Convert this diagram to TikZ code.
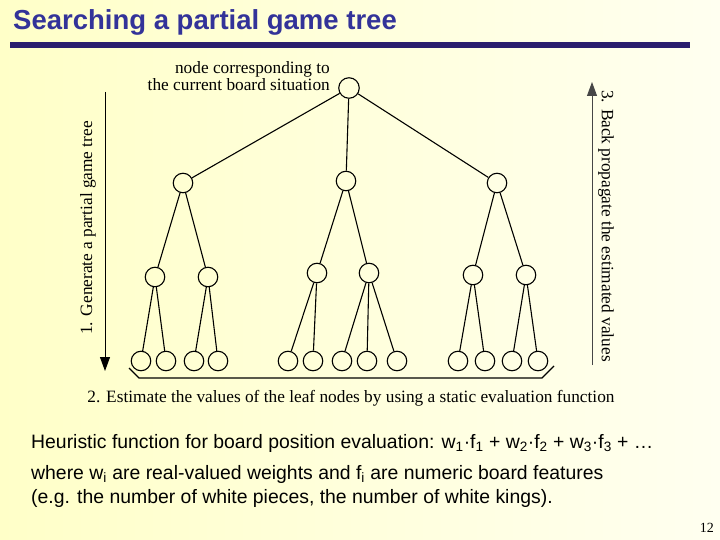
\documentclass[tikz,border=0pt]{standalone}
\usepackage{fontspec}
\setmainfont{Liberation Serif}
\setsansfont{Liberation Sans}
\newfontfamily\arialf{Liberation Sans}
\usetikzlibrary{arrows.meta}
\definecolor{titleblue}{RGB}{51,51,153}
\definecolor{barblue}{RGB}{42,30,110}
\definecolor{bgyellow}{RGB}{255,255,200}
\definecolor{bgwhite}{RGB}{255,255,240}
\definecolor{arrowgray}{RGB}{70,70,70}
\begin{document}
\begin{tikzpicture}[x=1pt,y=-1pt,
  tn/.style={circle,draw=black,line width=1.1pt,minimum size=19.5pt,inner sep=0pt},
  edge/.style={line width=1.1pt},
  lbl/.style={font=\fontsize{17.3}{17}\selectfont, inner sep=0pt},
  body/.style={font=\arialf\fontsize{19.4}{20}\selectfont, anchor=base west, inner sep=0pt},
]
\useasboundingbox (0,0) rectangle (720,540);
\shade[left color=bgyellow, right color=bgwhite] (0,0) rectangle (720,540);

% title
\node[anchor=base west, inner sep=0pt, text=titleblue, font=\arialf\bfseries\fontsize{27.5}{28}\selectfont] (title) at (13,30) {Searching a partial game tree};
\fill[barblue] (10,42) rectangle (690,48);

% tree
\node[tn, minimum size=20.5pt] (r) at (349,88) {};
\node[tn] (a) at (183,183) {};
\node[tn] (b) at (346,181) {};
\node[tn] (c) at (497,183) {};
\node[tn] (a1) at (155,277) {};
\node[tn] (a2) at (208,277) {};
\node[tn] (b1) at (317,273) {};
\node[tn] (b2) at (369,273) {};
\node[tn] (c1) at (473,275) {};
\node[tn] (c2) at (526,275) {};
\foreach \n/\x in {a11/141,a12/166,a21/194,a22/218,b11/288,b12/313,b21/342,b22/367,b23/397,c11/458,c12/485,c21/512,c22/538}
  \node[tn] (\n) at (\x,361) {};

\draw[edge] (r) -- (a);
\draw[edge] (r) -- (b);
\draw[edge] (r) -- (c);
\draw[edge] (a) -- (a1);
\draw[edge] (a) -- (a2);
\draw[edge] (b) -- (b1);
\draw[edge] (b) -- (b2);
\draw[edge] (c) -- (c1);
\draw[edge] (c) -- (c2);
\draw[edge] (a1) -- (a11);
\draw[edge] (a1) -- (a12);
\draw[edge] (a2) -- (a21);
\draw[edge] (a2) -- (a22);
\draw[edge] (b1) -- (b11);
\draw[edge] (b1) -- (b12);
\draw[edge] (b2) -- (b21);
\draw[edge] (b2) -- (b22);
\draw[edge] (b2) -- (b23);
\draw[edge] (c1) -- (c11);
\draw[edge] (c1) -- (c12);
\draw[edge] (c2) -- (c21);
\draw[edge] (c2) -- (c22);

% root label
\node[lbl, align=right, anchor=base east] (rl) at (330,74) {node corresponding to};
\node[lbl, anchor=base east] (rl2) at (330,91) {the current board situation};

% left arrow
\coordinate (lt) at (105,92);
\coordinate (lb) at (105,371);
\draw[line width=0.9pt, -{Triangle[length=14pt,width=10pt]}] (lt) -- (lb);
\node[lbl, rotate=90] (ll) at (88,228) {1. Generate a partial game tree};

% right arrow
\coordinate (rb) at (592,365);
\coordinate (rt) at (592,82);
\draw[line width=0.9pt, draw=arrowgray, -{Triangle[length=14pt,width=10pt]}] (rb) -- (rt);
\node[lbl, rotate=-90] (rl3) at (606,226) {3. Back propagate the estimated values};

% bracket
\coordinate (k1) at (129,368);
\coordinate (k2) at (139,378);
\coordinate (k3) at (542,378);
\coordinate (k4) at (554,366);
\draw[line width=1.1pt] (k1) -- (k2) -- (k3) -- (k4);
\node[lbl, anchor=base] (bl) at (351,402) {2. Estimate the values of the leaf nodes by using a static evaluation function};

% body text
\node[body] (t1) at (31,448) {Heuristic function for board position evaluation: w\textsubscript{1}·f\textsubscript{1} + w\textsubscript{2}·f\textsubscript{2} + w\textsubscript{3}·f\textsubscript{3} + …};
\node[body] (t2) at (31,479) {where w\textsubscript{i} are real-valued weights and f\textsubscript{i} are numeric board features};
\node[body] (t3) at (31,503) {(e.g. the number of white pieces, the number of white kings).};

\node[anchor=base east, inner sep=0pt, font=\fontsize{14}{16}\selectfont] (pg) at (714,532) {12};
\end{tikzpicture}
\end{document}
